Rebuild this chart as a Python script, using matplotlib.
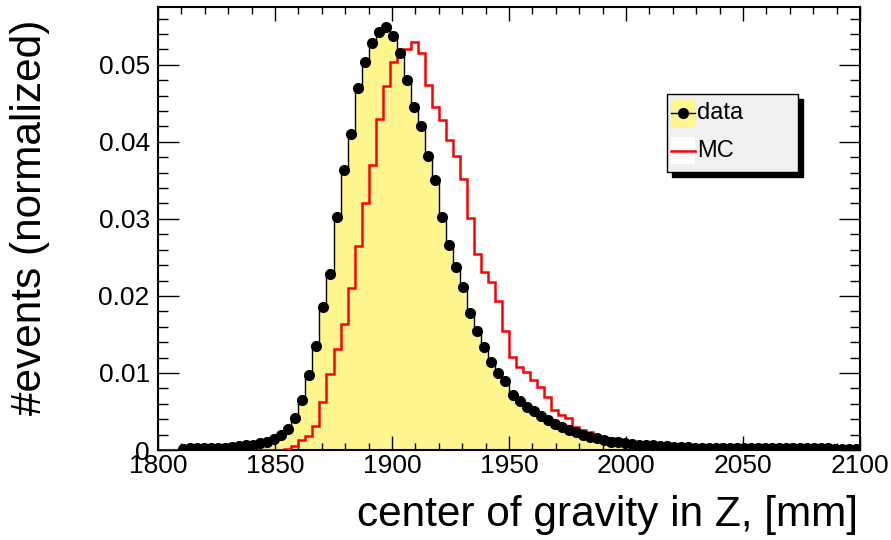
import numpy as np
import matplotlib
matplotlib.use('Agg')
import matplotlib.pyplot as plt
from matplotlib.patches import Rectangle
from matplotlib.lines import Line2D

plt.rcParams['font.family'] = ['Liberation Sans', 'DejaVu Sans']

# binning: 100 bins of 3 mm between 1800 and 2100
x_lo, x_hi, n_bins = 1800, 2100, 100

# normalised event fractions per bin, data
data = [0, 0, 0,
        0.0001, 0.0002, 0.0002, 0.0002, 0.0003, 0.0003, 0.0003, 0.0004, 0.0005, 0.0006, 0.0007, 0.0009, 0.0011,
        0.0014, 0.0019, 0.0027, 0.0042, 0.0065, 0.0097, 0.0135, 0.0185, 0.0229, 0.0303, 0.0364, 0.0410,
        0.0470, 0.0504, 0.0528, 0.0542,
        0.0549, 0.0537, 0.0515, 0.0480, 0.0445, 0.0421, 0.0381, 0.0351, 0.0303, 0.0266, 0.0238, 0.0211,
        0.0178, 0.0154, 0.0134, 0.0114, 0.0100, 0.0090,
        0.0071, 0.0063, 0.0056, 0.0050, 0.0044, 0.0039, 0.0034, 0.0030, 0.0026, 0.0023, 0.0020, 0.0017,
        0.0015, 0.0013, 0.0011, 0.0010, 0.0009, 0.0008, 0.0007, 0.0006,
        0.0006, 0.0005, 0.0005, 0.0004, 0.0004, 0.0004, 0.0003, 0.0003, 0.0003, 0.0003,
        0.0002, 0.0002, 0.0002, 0.0002, 0.0002, 0.0002, 0.0002, 0.0002, 0.0002, 0.0002,
        0.0002, 0.0002, 0.0002, 0.0002, 0.0002, 0.0002, 0.0001, 0.0001, 0.0001, 0.0001]

# same for simulation
mc = [0] * 18 + \
     [0.0001, 0.0005, 0.0013, 0.0018, 0.0031, 0.0062, 0.0098, 0.0131, 0.0164, 0.0210, 0.0265, 0.0321,
      0.0370, 0.0429, 0.0472, 0.0504, 0.0518, 0.0521,
      0.0529, 0.0515, 0.0474, 0.0445, 0.0428, 0.0403, 0.0381, 0.0352, 0.0301, 0.0255, 0.0231, 0.0218,
      0.0193, 0.0154, 0.0121, 0.0108, 0.0101, 0.0091, 0.0082, 0.0069,
      0.0052, 0.0045, 0.0041, 0.0030, 0.0026, 0.0024, 0.0018, 0.0016, 0.0015, 0.0013, 0.0011, 0.0009,
      0.0007, 0.0004, 0.0006, 0.0006, 0.0006, 0.0005, 0.0005, 0.0004, 0.0004, 0.0002, 0.0002, 0.0001] + \
     [0.0001] * 20

xticks = [1800, 1850, 1900, 1950, 2000, 2050, 2100]
xtick_labels = ['1800', '1850', '1900', '1950', '2000', '2050', '2100']
yticks = [0, 0.01, 0.02, 0.03, 0.04, 0.05]
ytick_labels = ['0', '0.01', '0.02', '0.03', '0.04', '0.05']

edges = np.linspace(x_lo, x_hi, n_bins + 1)
centers = 0.5 * (edges[:-1] + edges[1:])
data = np.array(data)
mc = np.array(mc)

yellow = '#fff68f'

fig = plt.figure(figsize=(8.91, 5.4), dpi=100)
ax = fig.add_axes([158/891, 90/540, 702/891, 443/540])

# data histogram: yellow fill with black outline, points on top
ax.stairs(data, edges, fill=True, color=yellow, zorder=1)
ax.stairs(data, edges, baseline=0, color='black', linewidth=1.0, zorder=2)
ax.stairs(mc, edges, baseline=0, color='red', linewidth=1.8, zorder=5)
sel = data > 0
ax.errorbar(centers[sel], data[sel], xerr=1.5, fmt='o', color='black', ms=7,
            elinewidth=1.0, capsize=0, zorder=6)

ax.set_xlim(x_lo, x_hi)
ax.set_ylim(0, 0.0575)
ax.set_xticks(xticks)
ax.set_xticklabels(xtick_labels)
ax.set_yticks(yticks)
ax.set_yticklabels(ytick_labels)
ax.set_xticks(np.arange(x_lo, x_hi + 1, 10), minor=True)
ax.set_yticks(np.arange(0, 0.0575, 0.002), minor=True)

ax.tick_params(axis='both', which='both', direction='in', top=True, right=True,
               labelsize=19, colors='black', width=1.0)
ax.tick_params(axis='x', which='major', length=10, pad=3)
ax.tick_params(axis='x', which='minor', length=5)
ax.tick_params(axis='y', which='major', length=15, pad=6)
ax.tick_params(axis='y', which='minor', length=7.5)
for s in ax.spines.values():
    s.set_linewidth(1.5)
    s.set_zorder(4)

fig.text(0.034, 0.963, '#events (normalized)', rotation=90, ha='center', va='top', fontsize=30.5)
fig.text(0.963, 0.046, 'center of gravity in Z, [mm]', ha='right', va='center', fontsize=30.5)

# legend box with hard black shadow
bx, by, bw, bh = 667, 94, 131, 78
def px(x, y):
    return x / 891, 1 - y / 540
fig.patches.append(Rectangle(px(bx + 5, by + bh + 5), bw / 891, bh / 540, transform=fig.transFigure,
                             facecolor='black', edgecolor='black', zorder=10))
fig.patches.append(Rectangle(px(bx, by + bh), bw / 891, bh / 540, transform=fig.transFigure,
                             facecolor='#f0f0f0', edgecolor='black', linewidth=1.0, zorder=11))
fig.patches.append(Rectangle(px(671, 127), 24 / 891, 28 / 540, transform=fig.transFigure,
                             facecolor=yellow, edgecolor='none', zorder=12))
fig.patches.append(Rectangle(px(671, 164), 24 / 891, 27 / 540, transform=fig.transFigure,
                             facecolor='white', edgecolor='none', zorder=12))
fig.lines.append(Line2D([671 / 891, 695 / 891], [1 - 113 / 540] * 2, transform=fig.transFigure,
                        color='black', linewidth=1.0, marker=None, zorder=13))
fig.lines.append(Line2D([683 / 891], [1 - 113 / 540], transform=fig.transFigure,
                        color='black', marker='o', ms=7, zorder=14))
fig.lines.append(Line2D([671 / 891, 695 / 891], [1 - 151 / 540] * 2, transform=fig.transFigure,
                        color='red', linewidth=1.8, zorder=13))
fig.text(697 / 891, 1 - 113 / 540, 'data', ha='left', va='center', fontsize=17, zorder=15)
fig.text(697 / 891, 1 - 151 / 540, 'MC', ha='left', va='center', fontsize=17, zorder=15)

fig.savefig('out.png', dpi=100)
